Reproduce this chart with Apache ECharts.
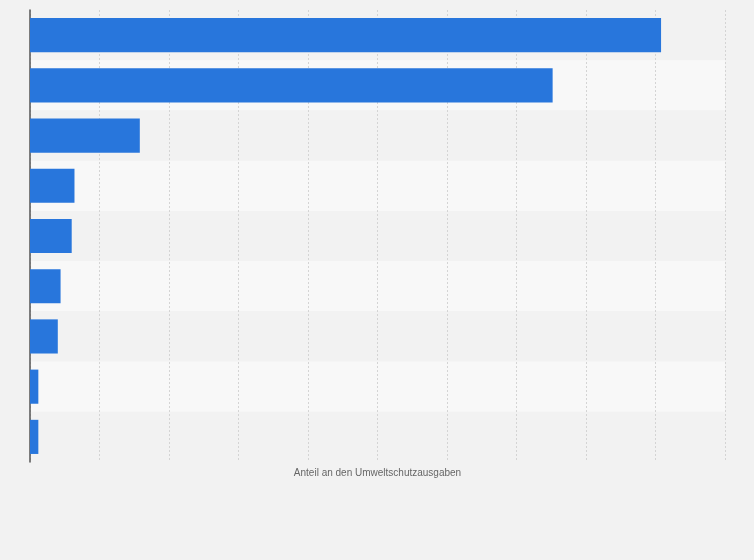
<!DOCTYPE html>
<html>
<head>
<meta charset="utf-8">
<script src="https://cdn.jsdelivr.net/npm/echarts@6/dist/echarts.min.js"></script>
<style>
  html,body{margin:0;padding:0;background:#f2f2f2;}
  #chart{width:754px;height:560px;}
</style>
</head>
<body>
<div id="chart"></div>
<script>
// Kategorien (Beschriftungen im Original ausgeblendet)
var categories = ['Kategorie 1','Kategorie 2','Kategorie 3','Kategorie 4','Kategorie 5','Kategorie 6','Kategorie 7','Kategorie 8','Kategorie 9'];
// Anteil in Prozent, von oben nach unten
var values = [45.4, 37.6, 7.9, 3.2, 3.0, 2.2, 2.0, 0.6, 0.6];
var axisMin = 0, axisMax = 50, axisStep = 5;
var axisTitle = 'Anteil an den Umweltschutzausgaben';

var chart = echarts.init(document.getElementById('chart'));
chart.setOption({
  backgroundColor: '#f2f2f2',
  animation: false,
  grid: { left: 30, right: 29, top: 10, bottom: 98, containLabel: false },
  xAxis: {
    type: 'value',
    min: axisMin,
    max: axisMax,
    interval: axisStep,
    name: axisTitle,
    nameLocation: 'middle',
    nameGap: 6,
    nameTextStyle: { color: '#666', fontSize: 10, fontFamily: 'Liberation Sans, Arial, sans-serif' },
    axisLine: { show: false },
    axisTick: { show: false },
    axisLabel: { show: false },
    splitLine: { show: true, lineStyle: { color: '#d4d4d4', type: [2, 2], width: 1 } }
  },
  yAxis: {
    type: 'category',
    data: categories,
    inverse: true,
    axisLine: { show: true, lineStyle: { color: '#555', width: 1.5 } },
    axisTick: { show: false },
    axisLabel: { show: false },
    splitLine: { show: false },
    splitArea: { show: true, areaStyle: { color: ['#f2f2f2', '#f8f8f8'] } }
  },
  series: [{
    type: 'bar',
    data: values,
    barCategoryGap: '32%',
    itemStyle: { color: '#2876dc' }
  }]
});
</script>
</body>
</html>
